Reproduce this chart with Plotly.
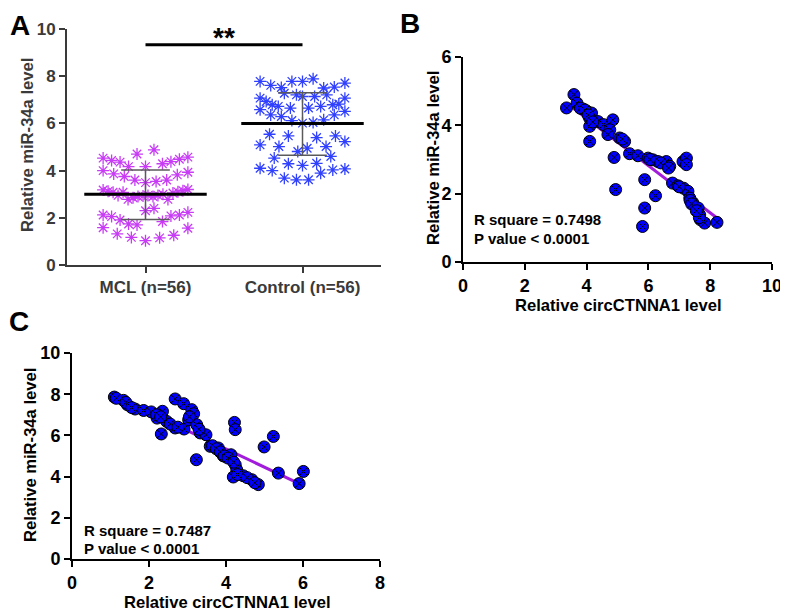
import numpy as np
import plotly.graph_objects as go

# ---------------- DATA ----------------
# Panel A: scatter dot plot, values grouped in rows (left-to-right as in GraphPad layout)
group_labels = ["MCL (n=56)", "Control (n=56)"]
mcl_rows = [
    [4.53, 4.43, 4.36, 4.17, 4.70, 4.17, 4.88, 4.29, 4.38, 4.48, 4.57],
    [4.00, 3.86, 3.75, 3.60, 3.49, 3.54, 3.60, 3.82, 3.93],
    [3.18, 3.12, 3.08, 2.95, 3.08, 2.78, 2.85, 2.90, 2.92, 2.95, 2.90, 2.95, 3.00, 2.78, 3.05, 3.10, 3.15, 3.20],
    [2.12, 2.05, 1.91, 1.74, 1.70, 2.30, 2.40, 1.84, 2.08, 2.12, 2.23],
    [1.58, 1.32, 1.17, 1.03, 1.15, 1.26, 1.56],
]
control_rows = [
    [7.78, 7.61, 7.52, 7.78, 7.78, 7.89, 7.50, 7.54, 7.71],
    [7.07, 6.93, 6.79, 6.72, 7.28, 6.65, 7.21, 7.14, 6.65, 7.14, 6.72, 7.21, 6.79, 6.82, 7.07],
    [6.58, 6.36, 6.29, 6.12, 6.01, 6.04, 6.15, 6.36, 6.51],
    [5.09, 5.54, 5.02, 5.47, 4.81, 4.95, 5.40, 5.02, 5.47, 5.23],
    [4.53, 4.29, 4.22, 4.31, 4.60],
    [4.10, 4.00, 3.68, 3.61, 3.61, 3.89, 4.03, 4.07],
]
group_means = [3.0, 6.0]
group_sd_low = [1.93, 4.65]
group_sd_high = [4.03, 7.30]
sig_level = 9.33
sig_text = "**"

# Panel B: circCTNNA1 vs miR-34a
b_x = [3.35, 3.59, 3.69, 3.88, 4.01, 4.16, 4.10, 4.10, 4.37, 4.55, 4.85, 4.75, 4.69, 4.10,
       5.07, 5.23, 4.89, 5.39, 5.66, 5.99, 6.15, 6.31, 6.58, 6.69, 7.12, 7.23, 7.23, 6.78,
       6.96, 7.14, 7.28, 7.34, 7.44, 7.61, 7.66, 7.68, 7.82, 8.22, 5.88, 6.23, 5.88, 5.81,
       4.94, 3.80, 3.95, 4.05, 4.20, 6.05, 6.40, 6.65, 7.00, 7.35, 7.40, 7.65, 5.15, 7.55]
b_y = [4.51, 4.90, 4.65, 4.48, 4.41, 4.36, 4.21, 3.97, 4.11, 4.02, 4.16, 3.87, 3.73, 3.53,
       3.63, 3.53, 3.06, 3.17, 3.11, 3.04, 2.99, 2.94, 2.94, 2.80, 2.94, 3.04, 2.85, 2.31,
       2.23, 2.16, 2.07, 1.87, 1.73, 1.58, 1.38, 1.24, 1.14, 1.16, 2.41, 1.94, 1.58, 1.04,
       2.12, 4.50, 4.45, 4.30, 4.10, 3.00, 2.90, 2.75, 2.20, 1.80, 1.70, 1.30, 3.60, 1.50]
b_fit = (-0.69, 6.96)  # slope, intercept
b_stats = ["R square = 0.7498", "P value < 0.0001"]

# Panel C
c_x = [1.10, 1.34, 1.44, 1.64, 1.86, 2.06, 2.21, 2.35, 2.46, 2.32, 2.68, 2.91, 2.68, 2.90,
       3.11, 3.16, 3.03, 3.24, 3.33, 3.48, 3.59, 3.80, 3.93, 4.13, 4.24, 4.28, 4.19, 4.45,
       4.67, 4.84, 3.23, 4.22, 4.24, 4.99, 5.23, 5.36, 5.90, 6.01,
       1.15, 1.40, 1.55, 2.20, 2.30, 2.55, 2.75, 3.05, 3.30, 3.65, 3.75, 3.85, 3.95, 4.05,
       4.20, 4.30, 4.55, 4.75]
c_y = [7.86, 7.70, 7.49, 7.28, 7.21, 7.14, 6.84, 7.17, 6.68, 6.07, 6.36, 6.31, 7.77, 7.54,
       7.25, 7.05, 6.76, 6.52, 6.12, 6.03, 5.47, 5.39, 5.01, 5.06, 4.58, 4.33, 3.98, 4.04,
       3.85, 3.61, 4.82, 6.63, 6.28, 5.44, 5.95, 4.17, 3.66, 4.25,
       7.80, 7.60, 7.35, 7.00, 6.90, 6.55, 6.40, 6.90, 6.30, 5.50, 5.35, 5.20, 5.00, 4.90,
       4.70, 4.10, 3.95, 3.70]
c_fit = (-0.885, 8.88)
c_stats = ["R square = 0.7487", "P value < 0.0001"]

x_title = "Relative circCTNNA1 level"
y_title = "Relative miR-34a level"
panel_letters = ["A", "B", "C"]

# ---------------- STYLE ----------------
WIN_W, WIN_H = 788, 616
PAGE_OFF = 8  # default body margin of the page
W, H = WIN_W - PAGE_OFF, WIN_H - PAGE_OFF
FONT = "Liberation Sans, Arial, sans-serif"
MCL_COLOR = "#C83CF5"
CTRL_COLOR = "#3040FF"
DOT_COLOR = "#0000FF"
FIT_COLOR = "#A21CDC"
GRAY_AX = "#3a3a3a"


def px_x(p):
    return (p - PAGE_OFF) / W


def px_y(p):
    return 1 - (p - PAGE_OFF) / H


def row_offsets(n):
    w = min(0.27, 0.045 * (n - 1))
    return np.linspace(-w, w, n) if n > 1 else np.array([0.0])


fig = go.Figure()

# ---- Panel A ----
for gi, (rows, col) in enumerate([(mcl_rows, MCL_COLOR), (control_rows, CTRL_COLOR)]):
    xs, ys = [], []
    for r in rows:
        xs.extend(list(gi + row_offsets(len(r))))
        ys.extend(r)
    fig.add_trace(go.Scatter(x=xs, y=ys, mode="markers", xaxis="x", yaxis="y",
                             marker=dict(symbol="asterisk-open", size=10, color=col,
                                         line=dict(color=col, width=1.3)),
                             showlegend=False, hoverinfo="skip"))

for gi in range(2):
    m, lo, hi = group_means[gi], group_sd_low[gi], group_sd_high[gi]
    sdc = "#5a5a5a"
    fig.add_trace(go.Scatter(x=[gi, gi], y=[lo, hi], mode="lines", xaxis="x", yaxis="y",
                             line=dict(color=sdc, width=1.5), showlegend=False, hoverinfo="skip"))
    for v in (lo, hi):
        fig.add_trace(go.Scatter(x=[gi - 0.155, gi + 0.155], y=[v, v], mode="lines",
                                 xaxis="x", yaxis="y", line=dict(color=sdc, width=1.5),
                                 showlegend=False, hoverinfo="skip"))
    fig.add_trace(go.Scatter(x=[gi - 0.39, gi + 0.39], y=[m, m], mode="lines",
                             xaxis="x", yaxis="y", line=dict(color="black", width=3),
                             showlegend=False, hoverinfo="skip"))

fig.add_trace(go.Scatter(x=[0, 1], y=[sig_level, sig_level], mode="lines", xaxis="x", yaxis="y",
                         line=dict(color="black", width=3), showlegend=False, hoverinfo="skip"))
fig.add_annotation(x=0.5, y=sig_level, xref="x", yref="y", text=sig_text, showarrow=False,
                   yanchor="bottom", yshift=-10, font=dict(family=FONT, size=28, color="black", weight="bold"))

# ---- Panels B and C ----
for (xs, ys, fit, xa, ya) in [(b_x, b_y, b_fit, "x2", "y2"), (c_x, c_y, c_fit, "x3", "y3")]:
    x0, x1 = min(xs), max(xs)
    fig.add_trace(go.Scatter(x=[x0, x1], y=[fit[0] * x0 + fit[1], fit[0] * x1 + fit[1]],
                             mode="lines", xaxis=xa, yaxis=ya,
                             line=dict(color=FIT_COLOR, width=3), showlegend=False, hoverinfo="skip"))
    fig.add_trace(go.Scatter(x=xs, y=ys, mode="markers", xaxis=xa, yaxis=ya,
                             marker=dict(symbol="circle-x", size=12, color=DOT_COLOR,
                                         line=dict(color="black", width=1)),
                             showlegend=False, hoverinfo="skip"))

tick_font_a = dict(family=FONT, size=17, color=GRAY_AX, weight="bold")
tick_font = dict(family=FONT, size=18, color="black", weight="bold")
common = dict(showgrid=False, zeroline=False, showline=True, linewidth=2, ticks="outside",
              ticklen=6, tickwidth=2)

fig.update_layout(
    width=W, height=H, margin=dict(l=0, r=0, t=0, b=0, autoexpand=False),
    paper_bgcolor="white", plot_bgcolor="white",
    xaxis=dict(domain=[px_x(67), px_x(381)], range=[-0.5, 1.5], tickvals=[0, 1],
               ticktext=group_labels, anchor="y", linecolor=GRAY_AX, tickcolor=GRAY_AX,
               tickfont=tick_font_a, **common),
    yaxis=dict(domain=[px_y(265), px_y(29)], range=[0, 10], dtick=2, anchor="x",
               linecolor=GRAY_AX, tickcolor=GRAY_AX, tickfont=tick_font_a, **common),
    xaxis2=dict(domain=[px_x(463), px_x(772)], range=[0, 10], dtick=2, anchor="y2",
                linecolor="black", tickcolor="black", tickfont=tick_font, **common),
    yaxis2=dict(domain=[px_y(262), px_y(57)], range=[0, 6], dtick=2, anchor="x2",
                linecolor="black", tickcolor="black", tickfont=tick_font, **common),
    xaxis3=dict(domain=[px_x(72), px_x(380)], range=[0, 8], dtick=2, anchor="y3",
                linecolor="black", tickcolor="black", tickfont=tick_font, **common),
    yaxis3=dict(domain=[px_y(559), px_y(353)], range=[0, 10], dtick=2, anchor="x3",
                linecolor="black", tickcolor="black", tickfont=tick_font, **common),
)

title_font = dict(family=FONT, size=16.6, color="black", weight="bold")
title_font_a = dict(family=FONT, size=16.6, color=GRAY_AX, weight="bold")


def paper_text(text, x, y, font, angle=0, xanchor="center", yanchor="middle"):
    fig.add_annotation(x=px_x(x), y=px_y(y), xref="paper", yref="paper", text=text,
                       showarrow=False, textangle=angle, xanchor=xanchor, yanchor=yanchor,
                       font=font)


# axis titles
paper_text(y_title, 28, 145, title_font_a, angle=-90)
paper_text(y_title, 433, 158, title_font, angle=-90)
paper_text(x_title, 618, 305, title_font)
paper_text(y_title, 30, 455, title_font, angle=-90)
paper_text(x_title, 227, 602, title_font)

# stats text
stat_font = dict(family=FONT, size=15, color="black", weight="bold")
paper_text(b_stats[0], 472, 220, stat_font, xanchor="left")
paper_text(b_stats[1], 472, 239, stat_font, xanchor="left")
paper_text(c_stats[0], 82, 530, stat_font, xanchor="left")
paper_text(c_stats[1], 82, 548, stat_font, xanchor="left")

# panel letters
letter_font = dict(family=FONT, size=28, color="black", weight="bold")
paper_text(panel_letters[0], 20, 25, letter_font)
paper_text(panel_letters[1], 410, 24, letter_font)
paper_text(panel_letters[2], 19, 321, letter_font)

fig.write_html("out.html")
